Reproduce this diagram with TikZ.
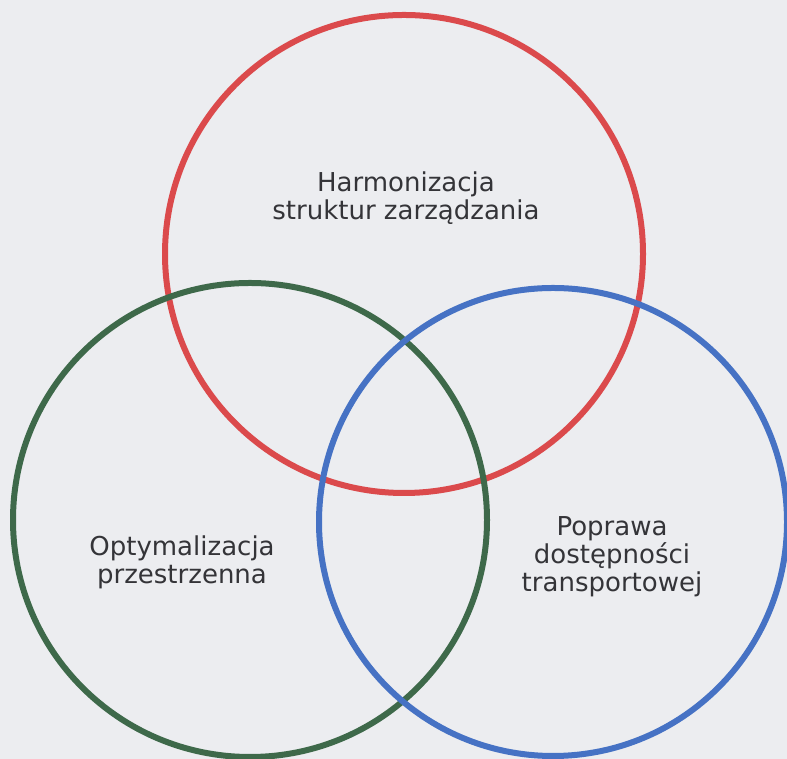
\documentclass[tikz,border=0pt]{standalone}
\usepackage{fontspec}
\setmainfont{DejaVu Sans}
\usetikzlibrary{positioning}
\definecolor{ringred}{RGB}{219,74,76}
\definecolor{ringgreen}{RGB}{62,105,74}
\definecolor{ringblue}{RGB}{70,114,196}
\definecolor{paper}{RGB}{236,237,240}
\definecolor{inkgray}{RGB}{52,52,56}

\begin{document}
\begin{tikzpicture}[x=1pt, y=1pt,
    ring/.style={circle, draw=#1, line width=6pt, inner sep=0pt},
    label/.style={align=center, text=inkgray, font=\fontsize{26}{28}\selectfont},
]
    % canvas
    \fill[paper] (0,0) rectangle (787,759);
    \useasboundingbox (0,0) rectangle (787,759);

    % Rings
    \node[ring=ringred, minimum size=478pt] (gov) at (404,505) {};
    \node[ring=ringgreen, minimum size=474pt] (space) at (250,239) {};
    \node[ring=ringblue, minimum size=468pt] (trans) at (553,237) {};

    % Labels
    \node[label] (govtxt) at (406,561) {Harmonizacja\\struktur zarządzania};
    \node[label] (spacetxt) at (182,197) {Optymalizacja\\przestrzenna};
    \node[label] (transtxt) at (612,202) {Poprawa\\dostępności\\transportowej};
\end{tikzpicture}
\end{document}
